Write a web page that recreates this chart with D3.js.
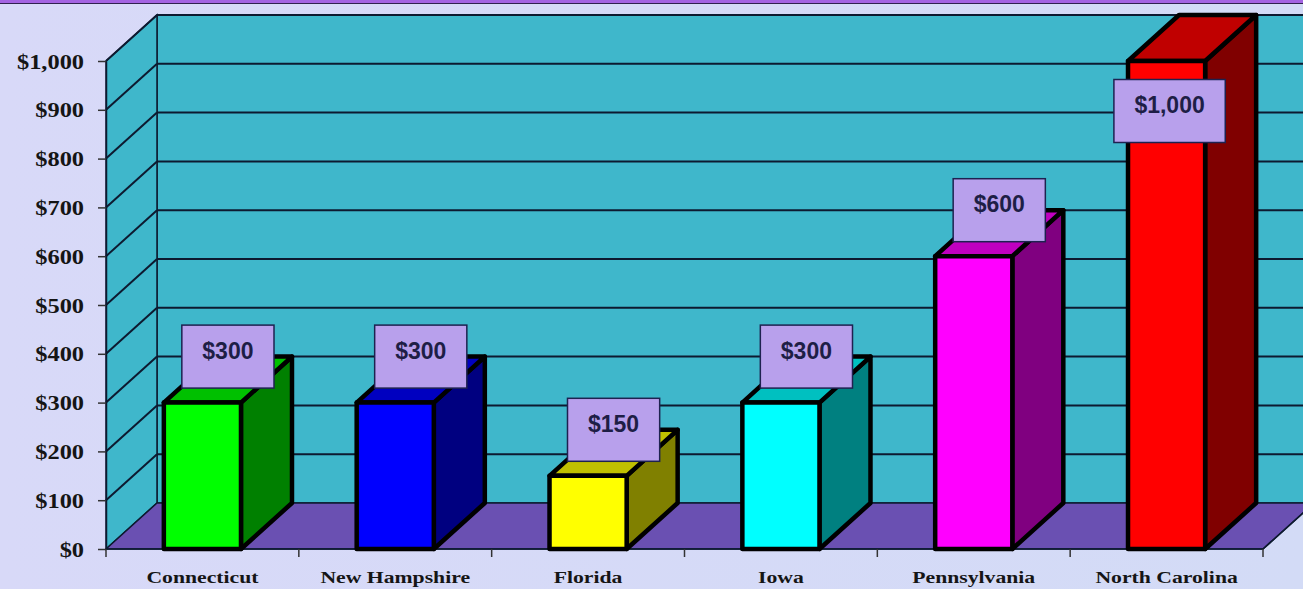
<!DOCTYPE html>
<html><head><meta charset="utf-8">
<script src="https://cdn.jsdelivr.net/npm/d3@7"></script>
<style>html,body{margin:0;padding:0;overflow:hidden;background:#d7daf7}</style>
</head><body>
<svg id="c" width="1303" height="589"></svg>
<script>
const categories = ["Connecticut","New Hampshire","Florida","Iowa","Pennsylvania","North Carolina"];
const values = [300,300,150,300,600,1000];
const tickValues = [0,100,200,300,400,500,600,700,800,900,1000];
const frontColors = ["#00ff00","#0000ff","#ffff00","#00ffff","#ff00ff","#ff0000"];
const topColors   = ["#00c000","#0000c0","#c0c000","#00c0c0","#c000c0","#c00000"];
const sideColors  = ["#008000","#000080","#808000","#008080","#800080","#800000"];

const W = 1303, H = 589;
const svg = d3.select("#c");
const left = 106, right = 1263, bottom = 549, topY = 61;
const DX = 51, DY = -46;

const defs = svg.append("defs");
const g = defs.append("linearGradient").attr("id","bg").attr("x1","0").attr("x2","1").attr("y1","0").attr("y2","0");
g.append("stop").attr("offset","0").attr("stop-color","#d8d9f8");
g.append("stop").attr("offset","1").attr("stop-color","#d3dbf6");
svg.append("rect").attr("width",W).attr("height",H).attr("fill","url(#bg)");
svg.append("rect").attr("x",0).attr("y",0).attr("width",W).attr("height",3).attr("fill","#a463e2");
svg.append("line").attr("x1",0).attr("x2",W).attr("y1",3.5).attr("y2",3.5).attr("stroke","#302050").attr("stroke-width",1.2);

const x = d3.scaleBand().domain(categories).range([left,right]).paddingInner(0.6).paddingOuter(0.3);
const xCat = d3.scaleBand().domain(categories).range([left,right]).padding(0);
const y = d3.scaleLinear().domain([0,1000]).range([bottom,topY]);

const line = d3.line();
const ink = "#0d1a30";

// back wall
svg.append("path").attr("d", line([[left+DX,y(1000)+DY],[right+DX,y(1000)+DY],[right+DX,y(0)+DY],[left+DX,y(0)+DY]])+"Z")
  .attr("fill","#3fb7cb").attr("stroke",ink).attr("stroke-width",1.5);
// left side wall
svg.append("path").attr("d", line([[left,y(0)],[left+DX,y(0)+DY],[left+DX,y(1000)+DY],[left,y(1000)]])+"Z")
  .attr("fill","#3fb7cb").attr("stroke",ink).attr("stroke-width",1.5);
// floor
svg.append("path").attr("d", line([[left,y(0)],[right,y(0)],[right+DX,y(0)+DY],[left+DX,y(0)+DY]])+"Z")
  .attr("fill","#6a50b2").attr("stroke",ink).attr("stroke-width",1.5);

// gridlines
const grid = svg.append("g");
tickValues.filter(v=>v>0).forEach(v=>{
  grid.append("line").attr("x1",left+DX).attr("x2",right+DX).attr("y1",y(v)+DY).attr("y2",y(v)+DY)
    .attr("stroke",ink).attr("stroke-width",2);
  grid.append("line").attr("x1",left).attr("x2",left+DX).attr("y1",y(v)).attr("y2",y(v)+DY)
    .attr("stroke",ink).attr("stroke-width",2);
});

// y axis
const yAxis = svg.append("g").attr("transform",`translate(${left},0)`)
  .call(d3.axisLeft(y).tickValues(tickValues).tickFormat(d3.format("$,")).tickSize(8).tickSizeOuter(0));
yAxis.select(".domain").attr("stroke",ink).attr("stroke-width",1.5);
yAxis.selectAll(".tick line").attr("stroke","#333").attr("stroke-width",1.5);
yAxis.selectAll(".tick text")
  .attr("x", -22/1.19).attr("dy", null).attr("y", 7)
  .attr("transform","scale(1.19,1)")
  .attr("text-anchor","end")
  .style("font-family","'Liberation Serif','Times New Roman',serif")
  .style("font-weight","bold").style("font-size","20.5px").attr("fill","#151515");

// x axis
const xAxis = svg.append("g").attr("transform",`translate(0,${bottom})`);
xAxis.append("line").attr("x1",left).attr("x2",right).attr("y1",0).attr("y2",0).attr("stroke",ink).attr("stroke-width",1.5);
xAxis.append("line").attr("x1",right).attr("x2",right+DX).attr("y1",0).attr("y2",DY).attr("stroke",ink).attr("stroke-width",1.5);
const bounds = categories.map(c=>xCat(c)).concat([xCat(categories[categories.length-1])+xCat.bandwidth()]);
bounds.forEach(b=>{
  xAxis.append("line").attr("x1",b).attr("x2",b).attr("y1",0).attr("y2",8).attr("stroke","#333").attr("stroke-width",1.5);
});
categories.forEach(c=>{
  xAxis.append("text").text(c)
    .attr("transform",`translate(${xCat(c)+xCat.bandwidth()/2},34) scale(1.24,1)`)
    .attr("text-anchor","middle")
    .style("font-family","'Liberation Serif','Times New Roman',serif")
    .style("font-weight","bold").style("font-size","17.5px").attr("fill","#151515");
});

// bars
const bars = svg.append("g");
categories.forEach((c,i)=>{
  const x0 = x(c), x1 = x(c)+x.bandwidth();
  const y0 = y(0), y1 = y(values[i]);
  const gb = bars.append("g").attr("stroke","#000").attr("stroke-width",4.5).attr("stroke-linejoin","round");
  gb.append("path").attr("d", line([[x1,y0],[x1+DX,y0+DY],[x1+DX,y1+DY],[x1,y1]])+"Z").attr("fill",sideColors[i]);
  gb.append("path").attr("d", line([[x0,y1],[x1,y1],[x1+DX,y1+DY],[x0+DX,y1+DY]])+"Z").attr("fill",topColors[i]);
  gb.append("path").attr("d", line([[x0,y0],[x1,y0],[x1,y1],[x0,y1]])+"Z").attr("fill",frontColors[i]);
});

// value labels
const labels = svg.append("g");
const fmt = d3.format("$,");
categories.forEach((c,i)=>{
  let cx = x(c)+x.bandwidth()/2 + DX/2;
  let cy = y(values[i]) + DY/2 - 23;
  const boxH = 63;
  if (cy - boxH/2 < y(1000)+DY) { cy = y(1000) + 50; cx = x(c)+x.bandwidth()/2 + 3; }
  const lg = labels.append("g");
  const rect = lg.append("rect");
  const t = lg.append("text").text(fmt(values[i]))
    .attr("x",cx).attr("y",cy+2).attr("text-anchor","middle")
    .style("font-family","'Liberation Sans',Arial,sans-serif")
    .style("font-weight","bold").style("font-size","23px").attr("fill","#1e1e46");
  const tw = t.node().getComputedTextLength();
  const bw = tw + 41;
  rect.attr("x",cx-bw/2).attr("y",cy-boxH/2).attr("width",bw).attr("height",boxH)
    .attr("fill","#b8a0ec").attr("stroke","#1e2250").attr("stroke-width",1.5);
});
</script>
</body></html>
